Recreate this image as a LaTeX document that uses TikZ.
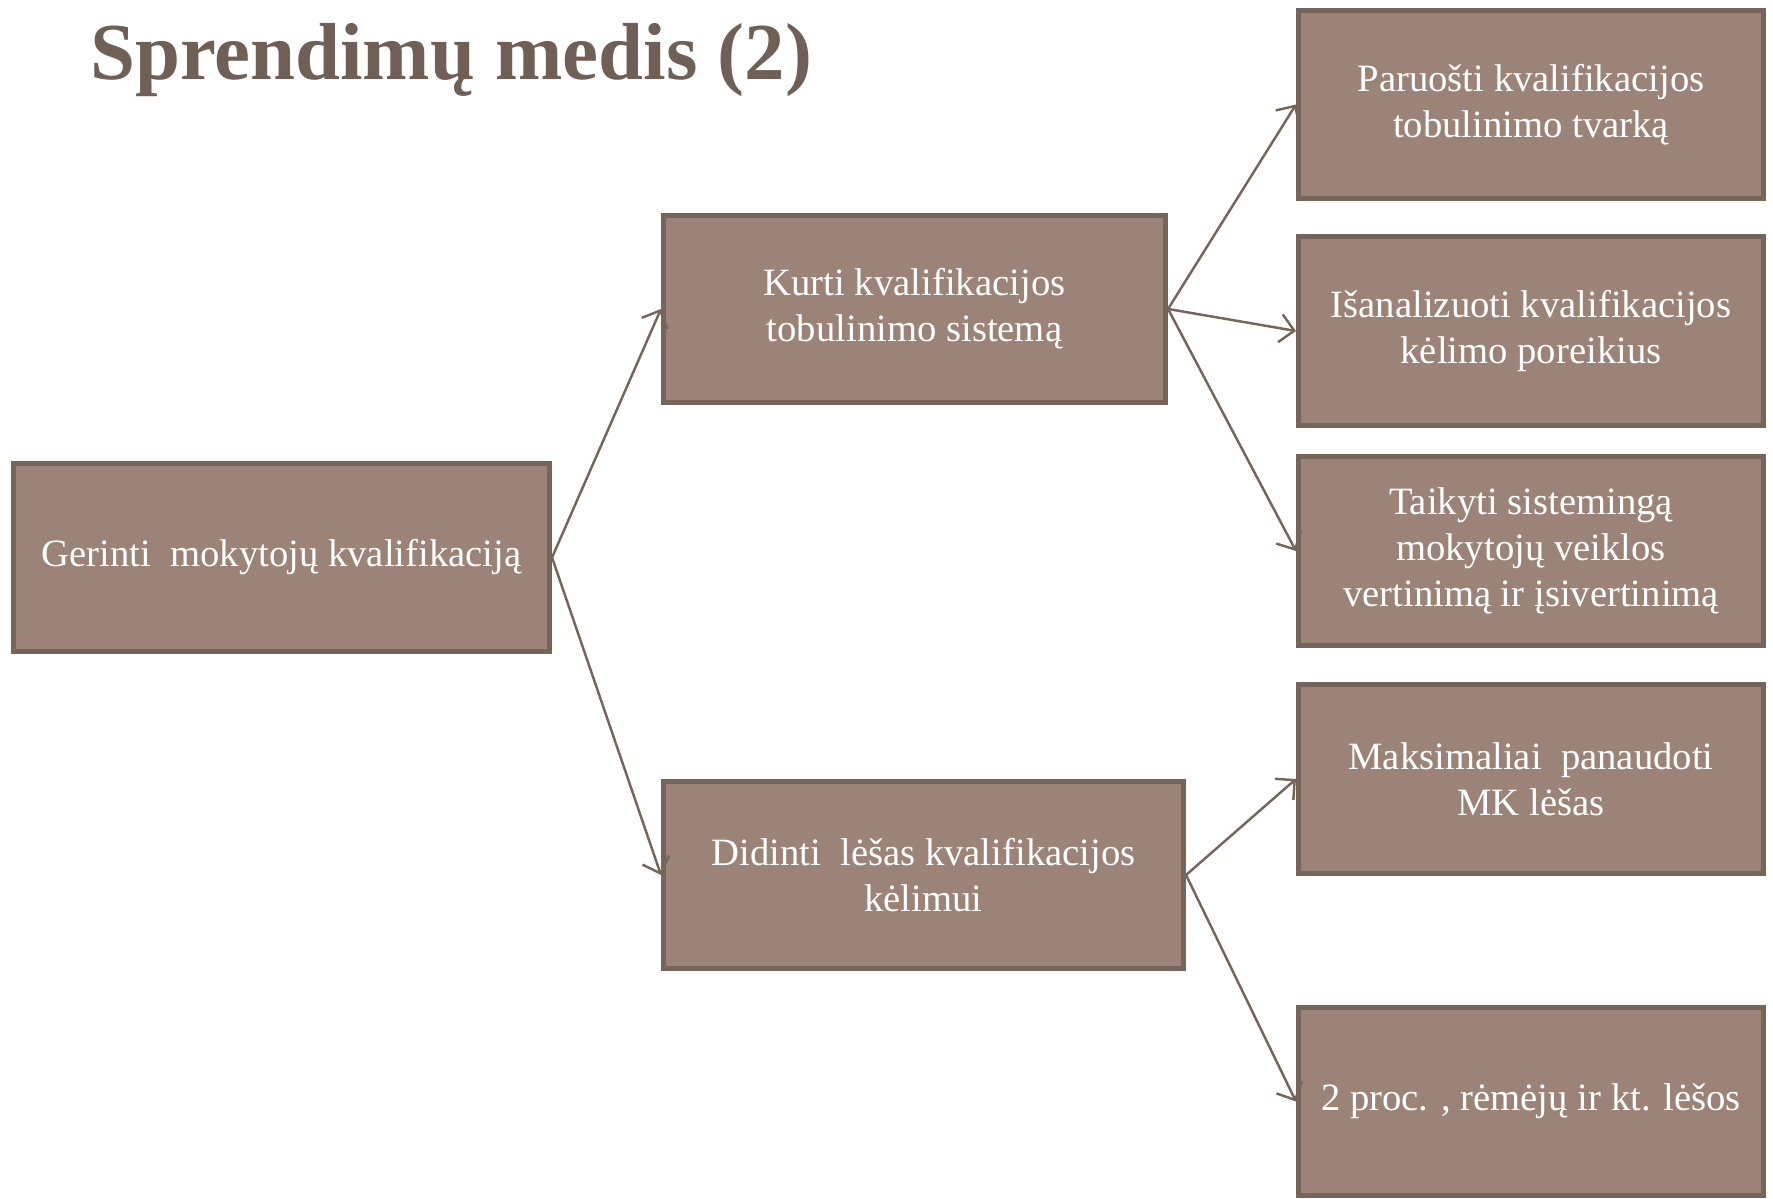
\documentclass[tikz,border=0pt]{standalone}
\usepackage{fontspec}
\setmainfont{Liberation Serif}
\usetikzlibrary{arrows.meta}
\definecolor{boxfill}{HTML}{9B8477}
\definecolor{boxline}{HTML}{76655B}
\definecolor{titlecol}{HTML}{6F5F55}
\begin{document}
\begin{tikzpicture}[
  box/.style={draw=boxline, fill=boxfill, line width=1.3pt, text=white, align=center,
    inner sep=0pt, font=\fontsize{11}{13}\selectfont},
  leaf/.style={box, minimum width=4.655cm, minimum height=1.885cm},
  link/.style={draw=boxline, line width=0.7pt, -{Straight Barb[length=4pt,width=8pt]}}]
  \useasboundingbox (0,0) rectangle (17.73,-11.99);
  \node[anchor=base west, text=titlecol, font=\fontsize{23}{27}\selectfont\bfseries] (title) at (0.78,-0.80) {Sprendimų medis (2)};
  % tree
  \node[box, minimum width=5.365cm, minimum height=1.885cm] (root) at (2.815,-5.575) {Gerinti~ mokytojų kvalifikaciją};
  \node[box, minimum width=5.025cm, minimum height=1.875cm] (kurti) at (9.145,-3.09) {Kurti kvalifikacijos\\tobulinimo sistemą};
  \node[box, minimum width=5.205cm, minimum height=1.875cm] (didinti) at (9.235,-8.75) {Didinti~ lėšas kvalifikacijos\\kėlimui};
  \node[leaf] (tvarka) at (15.31,-1.045) {Paruošti kvalifikacijos\\tobulinimo tvarką};
  \node[leaf] (poreikiai) at (15.31,-3.31) {Išanalizuoti kvalifikacijos\\kėlimo poreikius};
  \node[leaf] (vertinimas) at (15.31,-5.51) {Taikyti sistemingą\\mokytojų veiklos\\vertinimą ir įsivertinimą};
  \node[leaf] (mklesos) at (15.31,-7.79) {Maksimaliai~ panaudoti\\MK lėšas};
  \node[leaf] (remejai) at (15.31,-11.015) {2 proc. , rėmėjų ir kt. lėšos};
  \draw[link] (root.east) -- (kurti.west);
  \draw[link] (root.east) -- (didinti.west);
  \draw[link] (kurti.east) -- (tvarka.west);
  \draw[link] (kurti.east) -- (poreikiai.west);
  \draw[link] (kurti.east) -- (vertinimas.west);
  \draw[link] (didinti.east) -- (mklesos.west);
  \draw[link] (didinti.east) -- (remejai.west);
\end{tikzpicture}
\end{document}
